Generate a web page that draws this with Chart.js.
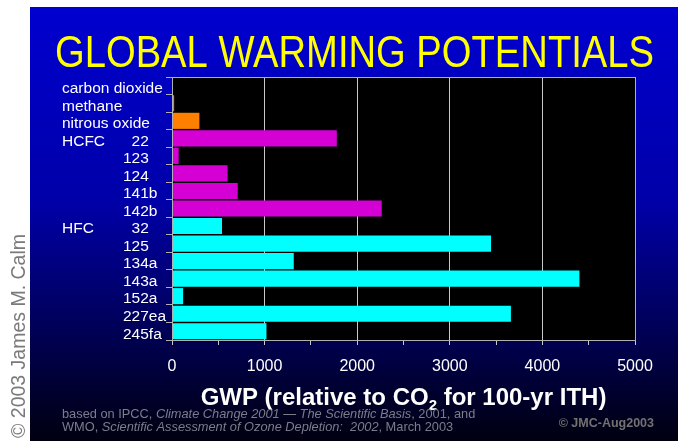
<!DOCTYPE html>
<html>
<head>
<meta charset="utf-8">
<script src="https://cdn.jsdelivr.net/npm/chart.js@4"></script>
<style>
  html, body { margin: 0; padding: 0; background: #fff; }
  #wrap { width: 678px; height: 441px; }
</style>
</head>
<body>
<div id="wrap"><canvas id="gwp" width="678" height="441"></canvas></div>
<script>
// rows, top to bottom
const categories = ['carbon dioxide', 'methane', 'nitrous oxide', 'HCFC-22', 'HCFC-123', 'HCFC-124',
    'HCFC-141b', 'HCFC-142b', 'HFC-32', 'HFC-125', 'HFC-134a', 'HFC-143a', 'HFC-152a', 'HFC-227ea', 'HFC-245fa'];
const leftLabels = ['carbon dioxide', 'methane', 'nitrous oxide', 'HCFC', '', '', '', '', 'HFC', '', '', '', '', '', ''];
const rightLabels = ['', '', '', '  22', '123', '124', '141b', '142b', '  32', '125', '134a', '143a', '152a', '227ea', '245fa'];
const gwpValues = [1, 23, 296, 1780, 72, 600, 710, 2265, 540, 3445, 1315, 4400, 120, 3660, 1020];
const barColors = ['#ff8000', '#ff8000', '#ff8000', '#d400d4', '#d400d4', '#d400d4', '#d400d4', '#d400d4',
    '#00ffff', '#00ffff', '#00ffff', '#00ffff', '#00ffff', '#00ffff', '#00ffff'];
const xTicks = [0, 1000, 2000, 3000, 4000, 5000];

const FONT = "'Liberation Sans', Arial, sans-serif";

const slidePlugin = {
    id: 'slide',
    beforeDraw(chart) {
        const ctx = chart.ctx;
        const area = chart.chartArea;
        ctx.save();
        ctx.fillStyle = '#ffffff';
        ctx.fillRect(0, 0, chart.width, chart.height);
        let grad = ctx.createLinearGradient(0, 7, 0, chart.height);
        grad.addColorStop(0, '#0000d0');
        grad.addColorStop(0.45, '#0000a8');
        grad.addColorStop(1, '#000010');
        ctx.fillStyle = grad;
        ctx.fillRect(30, 7, chart.width - 30, chart.height - 7);
        ctx.fillStyle = '#000000';
        ctx.fillRect(area.left, area.top, area.right - area.left, area.bottom - area.top);
        ctx.restore();
    },
    afterDraw(chart) {
        const ctx = chart.ctx;
        const area = chart.chartArea;
        const yScale = chart.scales.y;
        ctx.save();

        // frame round the plot
        ctx.strokeStyle = '#b0b0b0';
        ctx.lineWidth = 1;
        ctx.strokeRect(area.left + 0.5, area.top + 0.5, area.right - area.left, area.bottom - area.top);

        // title
        ctx.fillStyle = '#ffff00';
        ctx.font = '44px ' + FONT;
        ctx.textBaseline = 'alphabetic';
        ctx.textAlign = 'left';
        let title = 'GLOBAL WARMING POTENTIALS';
        let tw = ctx.measureText(title).width;
        let sx = 599 / tw;
        ctx.save();
        ctx.translate(55, 67);
        ctx.scale(sx, 1);
        ctx.fillText(title, 0, 0);
        ctx.restore();

        // row labels
        ctx.fillStyle = '#ffffff';
        ctx.font = '15.5px ' + FONT;
        ctx.textBaseline = 'middle';
        for (let i = 0; i < categories.length; i++) {
            let y = yScale.getPixelForValue(i) + 3;
            if (leftLabels[i]) ctx.fillText(leftLabels[i], 62, y);
            if (rightLabels[i]) ctx.fillText(rightLabels[i], 123, y);
        }

        // axis title with subscript
        ctx.textBaseline = 'alphabetic';
        let big = 'bold 24px ' + FONT;
        let small = 'bold 15px ' + FONT;
        let parts = [['GWP (relative to CO', big, 0], ['2', small, 5], [' for 100-yr ITH)', big, 0]];
        let total = 0;
        parts.forEach(p => { ctx.font = p[1]; total += ctx.measureText(p[0]).width; });
        let x = (area.left + area.right) / 2 - total / 2;
        parts.forEach(p => {
            ctx.font = p[1];
            ctx.fillText(p[0], x, 405 + p[2]);
            x += ctx.measureText(p[0]).width;
        });

        // source note
        ctx.fillStyle = '#7c7c8c';
        let line1 = [['based on IPCC, ', ''], ['Climate Change 2001 \u2014 The Scientific Basis', 'italic '], [', 2001, and', '']];
        let line2 = [['WMO, ', ''], ['Scientific Assessment of Ozone Depletion:  2002', 'italic '], [', March 2003', '']];
        [[line1, 418], [line2, 431]].forEach(l => {
            let px = 62;
            l[0].forEach(seg => {
                ctx.font = seg[1] + '12.8px ' + FONT;
                ctx.fillText(seg[0], px, l[1]);
                px += ctx.measureText(seg[0]).width;
            });
        });

        ctx.fillStyle = '#727272';
        ctx.font = 'bold 12.5px ' + FONT;
        ctx.textAlign = 'right';
        ctx.fillText('\u00a9 JMC-Aug2003', 654, 427);

        // copyright up the left side
        ctx.fillStyle = '#7a7a7a';
        ctx.font = '19.5px ' + FONT;
        ctx.textAlign = 'left';
        ctx.translate(25, 438);
        ctx.rotate(-Math.PI / 2);
        ctx.fillText('\u00a9 2003 James M. Calm', 0, 0);

        ctx.restore();
    }
};

new Chart(document.getElementById('gwp'), {
    type: 'bar',
    data: {
        labels: categories,
        datasets: [{
            data: gwpValues,
            backgroundColor: barColors,
            borderWidth: 0,
            barPercentage: 0.92,
            categoryPercentage: 1.0
        }]
    },
    plugins: [slidePlugin],
    options: {
        indexAxis: 'y',
        responsive: false,
        animation: false,
        devicePixelRatio: 1,
        layout: { padding: { top: 77, right: 43, left: 0, bottom: 0 } },
        plugins: { legend: { display: false }, tooltip: { enabled: false } },
        scales: {
            x: {
                min: 0,
                max: 5000,
                afterBuildTicks(scale) {
                    let t = [];
                    for (let v = 0; v <= 5000; v += 500) t.push({ value: v });
                    scale.ticks = t;
                },
                afterFit(scale) { scale.height = 101; },
                ticks: {
                    color: '#ffffff',
                    font: { family: FONT, size: 16 },
                    padding: 12,
                    maxRotation: 0,
                    autoSkip: false,
                    callback: (v) => xTicks.includes(v) ? String(v) : ''
                },
                grid: {
                    color: (c) => (c.tick && c.tick.value % 1000 === 0) ? '#c8c8c8' : 'rgba(0,0,0,0)',
                    tickColor: '#c8c8c8',
                    tickLength: 5,
                    lineWidth: 1
                },
                border: { color: '#b0b0b0' }
            },
            y: {
                afterFit(scale) { scale.width = 172; },
                ticks: { display: false },
                grid: {
                    offset: true,
                    drawOnChartArea: false,
                    color: '#b0b0b0',
                    tickLength: 6
                },
                border: { color: '#b0b0b0' }
            }
        }
    }
});
</script>
</body>
</html>
